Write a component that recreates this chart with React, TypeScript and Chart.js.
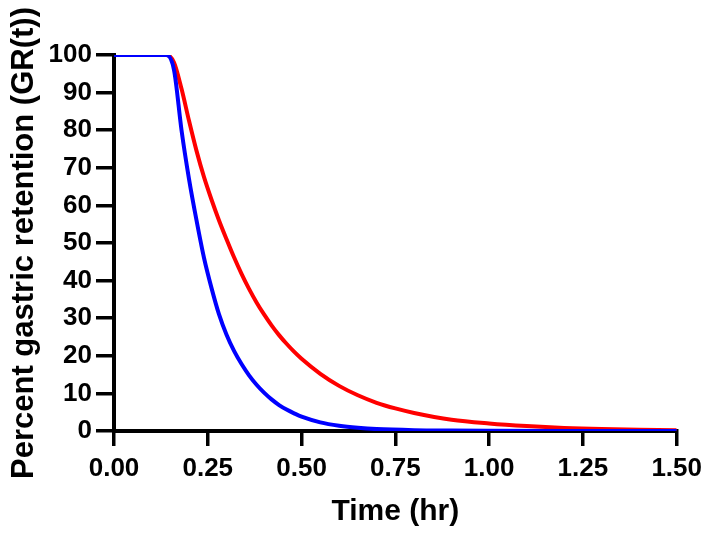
import React, { useEffect, useRef } from "react";
import { Chart, registerables } from "chart.js";

Chart.register(...registerables);

const timeRed = [0, 0.14, 0.16, 0.18, 0.2, 0.22, 0.24, 0.26, 0.28, 0.3, 0.32, 0.34, 0.36, 0.38, 0.4, 0.42, 0.44, 0.46, 0.48, 0.5, 0.55, 0.6, 0.65, 0.7, 0.75, 0.8, 0.9, 1.0, 1.1, 1.2, 1.3, 1.4, 1.5];
const valuesRed = [100, 100, 98, 91, 82.5, 74.5, 67.5, 61.5, 56, 51, 46.2, 41.8, 37.8, 34.2, 31, 28.1, 25.5, 23.2, 21.1, 19.2, 15.2, 12, 9.5, 7.5, 6, 4.8, 3, 2, 1.3, 0.8, 0.5, 0.35, 0.2];

const timeBlue = [0, 0.14, 0.16, 0.18, 0.2, 0.22, 0.24, 0.26, 0.28, 0.3, 0.32, 0.34, 0.36, 0.38, 0.4, 0.42, 0.44, 0.46, 0.48, 0.5, 0.55, 0.6, 0.65, 0.7, 0.8, 0.9, 1.0, 1.25, 1.5];
const valuesBlue = [100, 100, 96, 80, 67, 56, 46, 38, 31, 25.6, 21.3, 17.8, 14.8, 12.3, 10.2, 8.4, 6.9, 5.7, 4.7, 3.8, 2.3, 1.4, 0.85, 0.5, 0.2, 0.1, 0.05, 0, 0];

const xTitle = "Time (hr)";
const yTitle = "Percent gastric retention (GR(t))";

const FONT = "'Liberation Sans', Arial, Helvetica, sans-serif";

export default function App() {
  const ref = useRef<HTMLCanvasElement | null>(null);

  useEffect(() => {
    if (!ref.current) return;
    const chart = new Chart(ref.current, {
      type: "line",
      data: {
        datasets: [
          {
            label: "Blue",
            data: timeBlue.map((t, i) => ({ x: t, y: valuesBlue[i] })),
            borderColor: "#0000ff",
            borderWidth: 4,
            pointRadius: 0,
            cubicInterpolationMode: "monotone",
            fill: false,
            order: 0,
          },
          {
            label: "Red",
            data: timeRed.map((t, i) => ({ x: t, y: valuesRed[i] })),
            borderColor: "#ff0000",
            borderWidth: 4,
            pointRadius: 0,
            cubicInterpolationMode: "monotone",
            fill: false,
            order: 1,
          },
        ],
      },
      options: {
        responsive: false,
        animation: false,
        layout: { padding: { left: 0, right: 32, top: 55, bottom: 0 } },
        plugins: { legend: { display: false }, tooltip: { enabled: false } },
        scales: {
          x: {
            type: "linear",
            min: 0,
            max: 1.5,
            afterFit: (s: any) => {
              s.height = 103;
            },
            ticks: {
              stepSize: 0.25,
              color: "#000",
              padding: 7,
              maxRotation: 0,
              font: { family: FONT, size: 26, weight: "bold" },
              callback: (v: any) => Number(v).toFixed(2),
            },
            grid: {
              drawOnChartArea: false,
              drawTicks: true,
              tickLength: 15,
              tickWidth: 3.5,
              tickColor: "#000",
              color: "#000",
              lineWidth: 3.5,
            },
            border: { display: true, color: "#000", width: 4 },
            title: {
              display: true,
              text: xTitle,
              color: "#000",
              font: { family: FONT, size: 30, weight: "bold" },
              padding: { top: 4, bottom: 4 },
            },
          },
          y: {
            min: 0,
            max: 100,
            afterFit: (s: any) => {
              s.width = 114;
            },
            ticks: {
              stepSize: 10,
              color: "#000",
              padding: 4,
              font: { family: FONT, size: 26, weight: "bold" },
            },
            grid: {
              drawOnChartArea: false,
              drawTicks: true,
              tickLength: 18,
              tickWidth: 3.5,
              tickColor: "#000",
              color: "#000",
              lineWidth: 3.5,
            },
            border: { display: true, color: "#000", width: 4 },
            title: {
              display: true,
              text: yTitle,
              color: "#000",
              font: { family: FONT, size: 31, weight: "bold" },
              padding: { top: 6, bottom: 2 },
            },
          },
        },
      },
    });
    return () => chart.destroy();
  }, []);

  return (
    <div style={{ position: "fixed", left: 0, top: 0, width: 709, height: 534, background: "#fff" }}>
      <canvas ref={ref} width={709} height={534} />
    </div>
  );
}
